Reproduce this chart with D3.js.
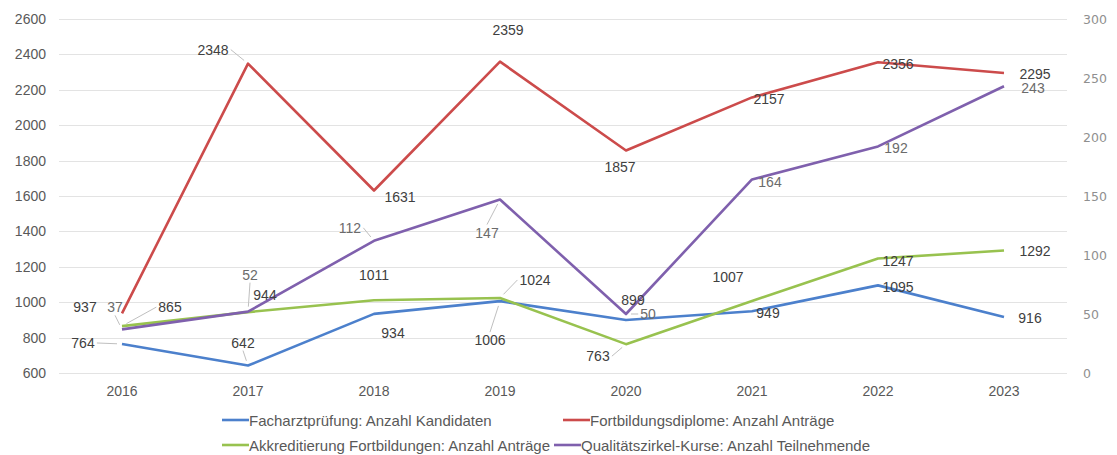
<!DOCTYPE html>
<html>
<head>
<meta charset="utf-8">
<script src="https://cdn.jsdelivr.net/npm/d3@7"></script>
<style>
  body { margin: 0; background: #fff; }
  text { font-family: "Liberation Sans", Arial, sans-serif; }
</style>
</head>
<body>
<div id="chart"></div>
<script>
var years = ["2016", "2017", "2018", "2019", "2020", "2021", "2022", "2023"];
var leftTicks = [600, 800, 1000, 1200, 1400, 1600, 1800, 2000, 2200, 2400, 2600];
var rightTicks = [0, 50, 100, 150, 200, 250, 300];

var facharzt = [764, 642, 934, 1006, 899, 949, 1095, 916];
var diplome = [937, 2348, 1631, 2359, 1857, 2157, 2356, 2295];
var akkred = [865, 944, 1011, 1024, 763, 1007, 1247, 1292];
var zirkel = [37, 52, 112, 147, 50, 164, 192, 243];

var names = [
    "Facharztprüfung: Anzahl Kandidaten",
    "Fortbildungsdiplome: Anzahl Anträge",
    "Akkreditierung Fortbildungen: Anzahl Anträge",
    "Qualitätszirkel-Kurse: Anzahl Teilnehmende"
];

// label offsets (dx, dy) and optional leader line, per series / year
var offsFach = [[-39, -1, 1], [-5, -23, 1], [19, 19], [-10, 39, 1], [7, -20], [16, 2], [20, 2], [26, 1]];
var offsDipl = [[-37, -6], [-35, -14, 1], [26, 6], [8, -32], [-6, 16], [17, 2], [20, 2], [31, 1]];
var offsAkk = [[48, -19, 1], [17, -17], [0, -25], [35, -18, 1], [-28, 12, 1], [-24, -24], [20, 3], [31, 0]];
var offsZirk = [[-7, -22, 1], [2, -37, 1], [-24, -13, 1], [-13, 33, 1], [22, 0, 1], [18, 3], [18, 2], [29, 2]];

var W = 1117, H = 455;
var plotL = 59, plotR = 1067, plotT = 19, plotB = 373;

var svg = d3.select("#chart").append("svg")
    .attr("width", W)
    .attr("height", H);

var x = d3.scaleBand().domain(years).range([plotL, plotR]);
var yL = d3.scaleLinear().domain([600, 2600]).range([plotB, plotT]);
var yR = d3.scaleLinear().domain([0, 300]).range([plotB, plotT]);

// grid
svg.append("g")
    .selectAll("line")
    .data(leftTicks)
    .enter()
    .append("line")
    .attr("x1", plotL).attr("x2", plotR)
    .attr("y1", function (d) { return Math.round(yL(d)) + 0.5; })
    .attr("y2", function (d) { return Math.round(yL(d)) + 0.5; })
    .attr("stroke", "#e3e3e3")
    .attr("stroke-width", 1);

// left axis
var axL = svg.append("g")
    .attr("transform", "translate(" + (plotL - 13) + ",0)")
    .call(d3.axisLeft(yL).tickValues(leftTicks).tickFormat(d3.format("d")).tickSize(0).tickPadding(0));
axL.select(".domain").remove();
axL.selectAll("text")
    .style("font-family", "Liberation Sans, Arial, sans-serif")
    .style("font-size", "14px")
    .attr("fill", "#595959");

// right axis
var axR = svg.append("g")
    .attr("transform", "translate(" + (plotR + 16) + ",0)")
    .call(d3.axisRight(yR).tickValues(rightTicks).tickFormat(d3.format("d")).tickSize(0).tickPadding(0));
axR.select(".domain").remove();
axR.selectAll("text")
    .style("font-family", "DejaVu Sans, sans-serif")
    .style("font-size", "12.5px")
    .attr("fill", "#8f8f8f");

// x axis
var axX = svg.append("g")
    .attr("transform", "translate(0," + (plotB + 13) + ")")
    .call(d3.axisBottom(x).tickSize(0).tickPadding(0));
axX.select(".domain").remove();
axX.selectAll("text")
    .style("font-family", "Liberation Sans, Arial, sans-serif")
    .style("font-size", "14px")
    .attr("fill", "#595959");

var series = [
    { vals: facharzt, y: yL, color: "#4c80cc", offs: offsFach, lab: "#404040" },
    { vals: diplome, y: yL, color: "#cc4b4b", offs: offsDipl, lab: "#404040" },
    { vals: akkred, y: yL, color: "#98c24f", offs: offsAkk, lab: "#404040" },
    { vals: zirkel, y: yR, color: "#7f60ad", offs: offsZirk, lab: "#6b6b6b" }
];

// lines
series.forEach(function (s) {
    var line = d3.line()
        .x(function (d, i) { return x(years[i]) + x.bandwidth() / 2; })
        .y(function (d) { return s.y(d); });
    svg.append("path")
        .datum(s.vals)
        .attr("fill", "none")
        .attr("stroke", s.color)
        .attr("stroke-width", 2.6)
        .attr("stroke-linejoin", "round")
        .attr("d", line);
});

// labels
series.forEach(function (s) {
    var g = svg.append("g");
    s.vals.forEach(function (v, i) {
        var px = x(years[i]) + x.bandwidth() / 2;
        var py = s.y(v);
        var o = s.offs[i];
        var lx = px + o[0], ly = py + o[1];
        var t = g.append("text")
            .attr("x", lx)
            .attr("y", ly)
            .attr("text-anchor", "middle")
            .attr("dominant-baseline", "central")
            .style("font-size", "14px")
            .attr("fill", s.lab)
            .text(v);
        if (o[2]) {
            var bb = t.node().getBBox();
            // attach leader to the label edge closest to the point
            var ex, ey;
            if (Math.abs(o[0]) > Math.abs(o[1]) * 1.2) {
                ex = o[0] > 0 ? bb.x - 2 : bb.x + bb.width + 2;
                ey = ly;
            } else {
                ex = lx;
                ey = o[1] > 0 ? bb.y : bb.y + bb.height;
            }
            var dx = px - ex, dy = py - ey;
            var len = Math.sqrt(dx * dx + dy * dy);
            var k = (len - 5) / len;
            g.insert("line", "text")
                .attr("x1", ex).attr("y1", ey)
                .attr("x2", ex + dx * k).attr("y2", ey + dy * k)
                .attr("stroke", "#bfbfbf")
                .attr("stroke-width", 1);
        }
    });
});

// legend
var legendPos = [[222, 420], [563, 420], [222, 445], [554, 445]];
var leg = svg.append("g");
series.forEach(function (s, i) {
    var p = legendPos[i];
    leg.append("line")
        .attr("x1", p[0]).attr("x2", p[0] + 27)
        .attr("y1", p[1]).attr("y2", p[1])
        .attr("stroke", s.color)
        .attr("stroke-width", 2.6);
    leg.append("text")
        .attr("x", p[0] + 27)
        .attr("y", p[1])
        .attr("dominant-baseline", "central")
        .style("font-size", "15px")
        .attr("fill", "#595959")
        .text(names[i]);
});
</script>
</body>
</html>
